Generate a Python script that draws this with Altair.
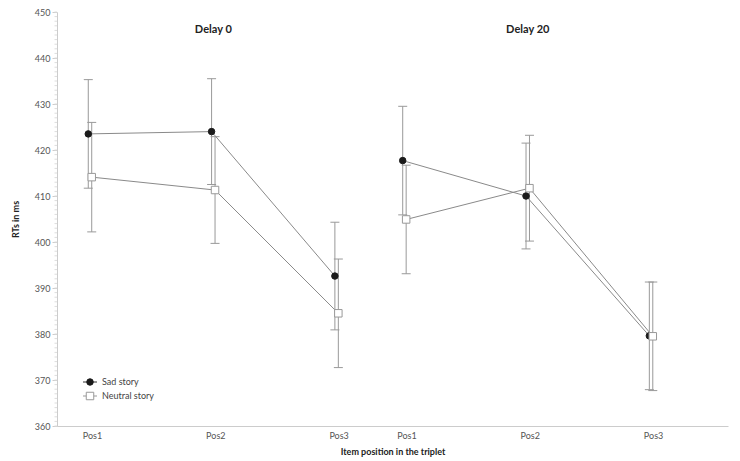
import json
import altair as alt
import pandas as pd

# ---- data ----
positions = ["Pos1", "Pos2", "Pos3"]
delays = ["Delay 0", "Delay 20"]
series = ["Sad story", "Neutral story"]

sad_d0 = [423.5, 424.0, 392.6]
sad_d0_err = [11.8, 11.5, 11.7]
neutral_d0 = [414.1, 411.3, 384.5]
neutral_d0_err = [11.9, 11.6, 11.8]
sad_d20 = [417.7, 410.0, 379.6]
sad_d20_err = [11.8, 11.5, 11.7]
neutral_d20 = [404.9, 411.7, 379.5]
neutral_d20_err = [11.8, 11.5, 11.8]

y_ticks = list(range(360, 451, 10))
y_minor = list(range(360, 451, 1))

# ---- build table ----
rows = []
blocks = [
    (0, 0, sad_d0, sad_d0_err),
    (0, 1, neutral_d0, neutral_d0_err),
    (1, 0, sad_d20, sad_d20_err),
    (1, 1, neutral_d20, neutral_d20_err),
]
for d_i, s_i, means, errs in blocks:
    for p_i, (m, e) in enumerate(zip(means, errs)):
        rows.append({
            "delay": delays[d_i], "delay_i": d_i,
            "series": series[s_i], "series_i": s_i,
            "pos": positions[p_i], "pos_i": p_i,
            "mean": m, "err": e,
        })
df = pd.DataFrame(rows)

GAP = 2.55      # horizontal offset of the second delay block (layout)
DODGE = 0.028   # small horizontal dodge between the two series (layout)
FONT = "Lato"
H = 414

x_vals = [p + d * GAP for d in range(2) for p in range(3)]
label_expr = (f"{json.dumps(positions)}[datum.value < 2.3 ? round(datum.value) "
              f": round(datum.value - {GAP})]")

x_scale = alt.Scale(domain=[-0.2676, 5.174], nice=False, zero=False)
y_scale = alt.Scale(domain=[360, 450], nice=False, zero=False)

x_axis = alt.Axis(values=x_vals, labelExpr=label_expr, ticks=False, grid=False,
                  domainColor="#cccccc", labelColor="#555555", labelFont=FONT,
                  labelFontSize=9, labelPadding=5, labelOffset=2,
                  title="Item position in the triplet", titleFont=FONT,
                  titleFontSize=9, titleFontWeight="bold", titleColor="#222222",
                  titlePadding=7)
y_axis = alt.Axis(values=y_ticks, grid=False, tickSize=5, tickColor="#cccccc",
                  domainColor="#cccccc", labelColor="#555555", labelFont=FONT,
                  labelFontSize=9, labelPadding=2, title="RTs in ms",
                  titleFont=FONT, titleFontSize=9, titleFontWeight="bold",
                  titleColor="#222222", titleX=-42, titleY=H / 2,
                  titleBaseline="middle", titleAlign="center", titleAngle=270)

base = alt.Chart(df).transform_calculate(
    x=f"datum.pos_i + datum.delay_i * {GAP} + (datum.series_i - 0.5) * {DODGE}",
    lo="datum.mean - datum.err",
    hi="datum.mean + datum.err",
    grp="datum.series + '|' + datum.delay",
)

X = alt.X("x:Q", scale=x_scale, axis=x_axis)

minor = alt.Chart(pd.DataFrame({"v": y_minor})).mark_rule(
    color="#dddddd", strokeWidth=1
).encode(
    y=alt.Y("v:Q", scale=y_scale, axis=y_axis),
    x=alt.value(-2.5), x2=alt.value(0),
)

err = base.mark_rule(color="#999999", strokeWidth=1).encode(
    x=X, y=alt.Y("lo:Q", scale=y_scale, axis=y_axis), y2="hi:Q")
cap_lo = base.mark_tick(orient="horizontal", size=9, thickness=1,
                        color="#999999", opacity=1).encode(
    x=X, y=alt.Y("lo:Q", scale=y_scale, axis=y_axis))
cap_hi = base.mark_tick(orient="horizontal", size=9, thickness=1,
                        color="#999999", opacity=1).encode(
    x=X, y=alt.Y("hi:Q", scale=y_scale, axis=y_axis))

lines = base.mark_line(color="#8a8a8a", strokeWidth=1).encode(
    x=X, y=alt.Y("mean:Q", scale=y_scale, axis=y_axis), detail="grp:N",
    order="pos_i:Q")

points = base.mark_point(opacity=1, strokeWidth=1).encode(
    x=X,
    y=alt.Y("mean:Q", scale=y_scale, axis=y_axis),
    shape=alt.Shape("series:N", scale=alt.Scale(domain=series, range=["circle", "square"]), legend=None),
    fill=alt.Fill("series:N", scale=alt.Scale(domain=series, range=["#1a1a1a", "#ffffff"]), legend=None),
    stroke=alt.Stroke("series:N", scale=alt.Scale(domain=series, range=["#1a1a1a", "#999999"]), legend=None),
    size=alt.Size("series:N", scale=alt.Scale(domain=series, range=[42, 56]), legend=None),
)

titles = alt.Chart(pd.DataFrame({"delay": delays, "delay_i": [0, 1]})).transform_calculate(
    x=f"1 + datum.delay_i * {GAP}"
).mark_text(font=FONT, fontSize=11, fontWeight="bold", color="#222222",
            baseline="middle", align="center").encode(
    x=X, y=alt.value(18), text="delay:N")

# ---- manual legend (line through marker) ----
leg_layers = []
leg_style = [("#1a1a1a", "#1a1a1a", "circle", 42, "#333333"),
             ("#ffffff", "#999999", "square", 56, "#999999")]
for i, name in enumerate(series):
    fill, stroke, shape, size, lcol = leg_style[i]
    yy = 370 + 14 * i
    ldf = pd.DataFrame({"label": [name]})
    leg_layers.append(alt.Chart(ldf).mark_rule(color=lcol, strokeWidth=1).encode(
        x=alt.value(26), x2=alt.value(40), y=alt.value(yy)))
    leg_layers.append(alt.Chart(ldf).mark_point(
        shape=shape, fill=fill, stroke=stroke, size=size, opacity=1, strokeWidth=1
    ).encode(x=alt.value(33), y=alt.value(yy)))
    leg_layers.append(alt.Chart(ldf).mark_text(
        font=FONT, fontSize=9, color="#444444", align="left", baseline="middle"
    ).encode(x=alt.value(45), y=alt.value(yy), text="label:N"))

chart = alt.layer(minor, err, cap_lo, cap_hi, lines, points, titles, *leg_layers).properties(
    width=671, height=H,
    autosize=alt.AutoSizeParams(type="none"),
    padding={"left": 49, "top": 4, "right": 4, "bottom": 35},
).configure_view(stroke=None)

chart.save("out.html", embed_options={"renderer": "svg", "actions": False})
